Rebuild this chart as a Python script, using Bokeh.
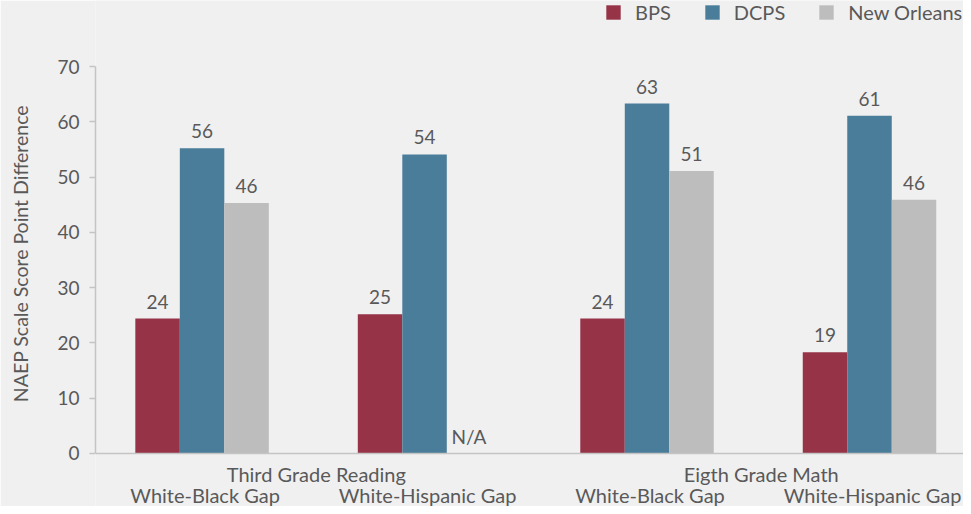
import numpy as np
from bokeh.plotting import figure
from bokeh.models import (ColumnDataSource, Range1d, FixedTicker, Span,
                          Legend, LegendItem)
from bokeh.transform import dodge
from bokeh.core.properties import value
from bokeh.embed import file_html
from bokeh.resources import INLINE

# ---- data ----
subgroups = ["White-Black Gap", "White-Hispanic Gap", "White-Black Gap", "White-Hispanic Gap"]
subgroup_group = [0, 0, 1, 1]
groups = ["Third Grade Reading", "Eigth Grade Math"]
series = ["BPS", "DCPS", "New Orleans"]
bps = [24.4, 25.2, 24.4, 18.3]
dcps = [55.2, 54.1, 63.3, 61.1]
new_orleans = [45.3, np.nan, 51.1, 45.9]
bps_labels = ["24", "25", "24", "19"]
dcps_labels = ["56", "54", "63", "61"]
new_orleans_labels = ["46", "N/A", "51", "46"]
y_ticks = [0, 10, 20, 30, 40, 50, 60, 70]
y_title = "NAEP Scale Score Point Difference"

colors = ["#963346", "#4a7d9a", "#bdbdbd"]
txt = "#595959"
axis_col = "#c4c4c4"
bg = "#f0f0f0"
FONT = "Lato"

idx = list(range(len(subgroups)))
src = ColumnDataSource(dict(
    x=idx,
    bps=bps, dcps=dcps, no=new_orleans,
    bps_y=list(np.nan_to_num(bps)), dcps_y=list(np.nan_to_num(dcps)),
    no_y=list(np.nan_to_num(new_orleans)),
    bps_l=bps_labels, dcps_l=dcps_labels, no_l=new_orleans_labels,
    sub=subgroups, zero=[0] * len(subgroups),
))
group_x = [float(np.mean([i for i, g in zip(idx, subgroup_group) if g == k])) for k in range(len(groups))]
gsrc = ColumnDataSource(dict(x=group_x, y=[0] * len(groups), t=groups))

# the frame fills the whole figure height; the y axis is bounded to 0-70
p = figure(width=963, height=506, output_backend="svg", toolbar_location=None,
           x_range=Range1d(-0.479, 3.4225), y_range=Range1d(-9.587, 81.94),
           x_axis_location=None,
           min_border_left=95, min_border_right=0, min_border_top=0,
           min_border_bottom=0)
p.background_fill_color = bg
p.border_fill_color = bg
p.outline_line_color = None
p.xgrid.visible = False
p.ygrid.visible = False

w = 0.2
renderers = []
for key, off, col in [("bps", -w, colors[0]), ("dcps", 0.0, colors[1]), ("no", w, colors[2])]:
    r = p.vbar(x=dodge("x", off, range=p.x_range), top=key, width=w, source=src,
               fill_color=col, line_color=None)
    renderers.append(r)
    p.text(x=dodge("x", off, range=p.x_range), y=key + "_y", text=key + "_l", source=src,
           text_align="center", text_baseline="alphabetic", y_offset=-17,
           text_font=value(FONT), text_font_size="19px", text_color=txt)

# x axis line at zero
p.add_layout(Span(location=0, dimension="width", line_color=axis_col, line_width=1.5))

# category labels (group row above subgroup row)
p.text(x="x", y="y", text="t", source=gsrc, text_align="center",
       text_baseline="alphabetic", x_offset=3, y_offset=21,
       text_font=value(FONT), text_font_size="20px", text_color=txt)
p.text(x="x", y="zero", text="sub", source=src, text_align="center",
       text_baseline="alphabetic", x_offset=3, y_offset=42,
       text_font=value(FONT), text_font_size="20px", text_color=txt)

# y axis
ya = p.yaxis[0]
ya.bounds = (0, 70)
ya.ticker = FixedTicker(ticks=y_ticks)
ya.minor_tick_line_color = None
ya.major_tick_in = 0
ya.major_tick_out = 6
ya.axis_line_color = axis_col
ya.axis_line_width = 1.5
ya.major_tick_line_color = axis_col
ya.major_tick_line_width = 1.5
ya.major_label_standoff = 10
ya.major_label_text_font = FONT
ya.major_label_text_font_size = "19px"
ya.major_label_text_color = txt
ya.axis_label = y_title
ya.axis_label_standoff = 22
ya.axis_label_text_font = FONT
ya.axis_label_text_font_size = "19.5px"
ya.axis_label_text_font_style = "normal"
ya.axis_label_text_color = txt

legend = Legend(items=[LegendItem(label=s, renderers=[r]) for s, r in zip(series, renderers)],
                location=(509, 482), orientation="horizontal",
                glyph_width=18, glyph_height=18, label_height=18, label_width=0,
                label_standoff=13, spacing=32, padding=0, margin=0,
                border_line_color=None, background_fill_alpha=0,
                label_text_font=FONT, label_text_font_size="20px",
                label_text_color=txt)
p.add_layout(legend, "center")

open("out.html", "w").write(file_html(p, INLINE))
